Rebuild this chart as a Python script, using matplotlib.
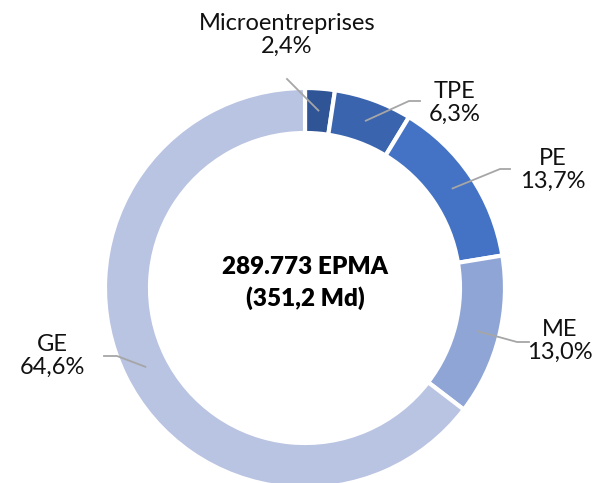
import numpy as np
import matplotlib.pyplot as plt

categories = ["Microentreprises", "TPE", "PE", "ME", "GE"]
shares = [2.4, 6.3, 13.7, 13.0, 64.6]
colors = ["#2F5597", "#3A64AE", "#4472C4", "#8FA5D5", "#B9C3E2"]
center_text = "289.773 EPMA\n(351,2 Md)"

# label text centre (px from top-left) and leader elbow points
label_pos = [(287, 35), (455, 103), (553, 170), (560, 341), (52, 356)]
elbows = [[(287, 79)], [(409, 101), (420, 101)], [(500, 169), (510, 169)],
          [(517, 342), (529, 342)], [(117, 356), (104, 356)]]

W, H = 610, 483
fig = plt.figure(figsize=(W / 100, H / 100), dpi=100)
ax = fig.add_axes([0, 0, 1, 1])

cx, cy, R = 305, H - 288, 200
ax.pie(shares, colors=colors, startangle=90, counterclock=False,
       center=(cx, cy), radius=R, frame=True,
       wedgeprops=dict(width=45, edgecolor="white", linewidth=3))
ax.set_xlim(0, W)
ax.set_ylim(0, H)
ax.set_aspect("equal")
ax.axis("off")

ax.text(cx, H - 283, center_text, ha="center", va="center", fontsize=17.5,
        fontweight="heavy", family="Lato", linespacing=1.4)

cum = np.cumsum([0] + shares[:-1])
for i, (cat, v) in enumerate(zip(categories, shares)):
    ang = np.deg2rad(90 - (cum[i] + v / 2) * 3.6)
    sx, sy = cx + 178 * np.cos(ang), cy + 178 * np.sin(ang)
    pts = [(sx, sy)] + [(x, H - y) for x, y in elbows[i]]
    ax.plot([p[0] for p in pts], [p[1] for p in pts], color="#A6A6A6", lw=1.3)
    lx, ly = label_pos[i]
    ax.text(lx, H - ly, f"{cat}\n{v:.1f}%".replace(".", ","), ha="center",
            va="center", fontsize=17, family="Lato", linespacing=1.15,
            color="#111111")

fig.savefig("out.png", dpi=100)
